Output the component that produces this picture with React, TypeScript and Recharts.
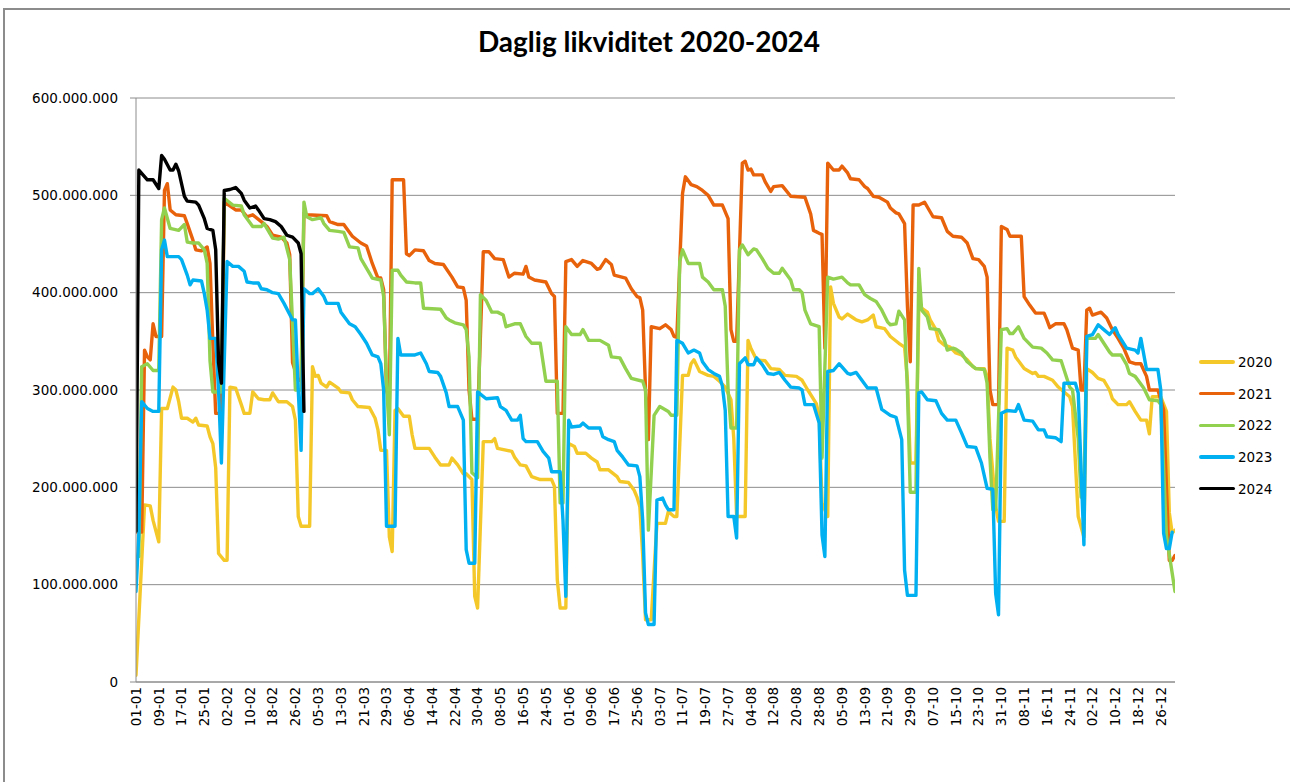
import React from 'react';
import { LineChart, Line, XAxis, YAxis, CartesianGrid } from 'recharts';

// dates shown under the axis (every 8th day of a leap year)
const tickLabels = [
  '01-01', '09-01', '17-01', '25-01', '02-02', '10-02', '18-02', '26-02', '05-03', '13-03',
  '21-03', '29-03', '06-04', '14-04', '22-04', '30-04', '08-05', '16-05', '24-05', '01-06',
  '09-06', '17-06', '25-06', '03-07', '11-07', '19-07', '27-07', '04-08', '12-08', '20-08',
  '28-08', '05-09', '13-09', '21-09', '29-09', '07-10', '15-10', '23-10', '31-10', '08-11',
  '16-11', '24-11', '02-12', '10-12', '18-12', '26-12',
];
const tickDays = tickLabels.map((_, i) => i * 8);
const yTicks = [0, 100, 200, 300, 400, 500, 600];

// [day of year, mio. kr]
const y2020: [number, number][] = [
  [0, 7], [3, 182], [5, 181], [6, 166], [8, 144], [9, 281], [11, 281], [13, 303], [14, 300], [15, 288],
  [16, 271], [18, 271], [20, 267], [21, 271], [22, 264], [25, 263], [26, 252], [27, 245], [28, 220], [29, 132],
  [31, 125], [32, 125], [33, 303], [35, 302], [37, 285], [38, 276], [40, 276], [41, 298], [43, 291], [45, 290],
  [47, 290], [48, 297], [50, 288], [53, 288], [55, 283], [56, 269], [57, 170], [58, 160], [61, 160], [62, 324],
  [63, 314], [64, 315], [65, 307], [67, 303], [68, 308], [71, 302], [72, 298], [75, 297], [76, 290], [78, 283],
  [82, 282], [84, 271], [85, 259], [86, 238], [88, 238], [89, 149], [90, 134], [91, 279], [92, 281], [94, 273],
  [96, 273], [97, 254], [98, 240], [103, 240], [105, 231], [107, 223], [110, 223], [111, 230], [113, 223], [115, 214],
  [116, 214], [118, 208], [119, 88], [120, 76], [122, 247], [125, 247], [126, 250], [127, 240], [132, 237], [133, 231],
  [135, 223], [137, 222], [139, 211], [142, 208], [146, 208], [147, 201], [148, 105], [149, 76], [151, 76], [152, 245],
  [154, 242], [155, 235], [158, 235], [160, 230], [162, 226], [163, 218], [166, 218], [169, 211], [170, 206], [173, 205],
  [175, 197], [176, 190], [177, 180], [178, 130], [179, 64], [181, 64], [183, 163], [186, 163], [187, 175], [189, 170],
  [190, 170], [192, 315], [194, 315], [195, 327], [196, 331], [198, 319], [201, 315], [203, 314], [205, 309], [207, 303],
  [209, 290], [210, 250], [211, 170], [214, 170], [215, 351], [216, 343], [218, 331], [221, 330], [223, 322], [226, 321],
  [228, 315], [232, 314], [234, 310], [236, 300], [239, 286], [240, 273], [241, 184], [243, 170], [244, 406], [245, 389],
  [247, 375], [248, 373], [250, 378], [252, 374], [253, 372], [255, 370], [257, 372], [259, 377], [260, 365], [263, 363],
  [265, 355], [268, 348], [270, 344], [271, 310], [272, 225], [274, 225], [275, 386], [276, 384], [278, 380], [279, 372],
  [281, 362], [282, 351], [284, 346], [286, 344], [288, 338], [290, 336], [292, 331], [294, 324], [295, 322], [298, 322],
  [299, 314], [300, 250], [302, 180], [303, 165], [305, 165], [306, 343], [308, 341], [309, 334], [312, 322], [315, 317],
  [316, 318], [317, 314], [319, 314], [322, 310], [324, 303], [328, 293], [329, 283], [331, 170], [333, 149], [334, 322],
  [336, 318], [338, 312], [340, 310], [342, 300], [343, 291], [345, 285], [348, 285], [349, 288], [351, 278], [353, 269],
  [355, 269], [356, 255], [357, 293], [360, 293], [362, 278], [363, 174], [364, 153], [365, 156],
];

const y2021: [number, number][] = [
  [0, 154], [2, 154], [3, 341], [4, 334], [5, 331], [6, 368], [7, 355], [9, 355], [10, 505], [11, 512],
  [12, 485], [14, 480], [17, 479], [18, 471], [20, 454], [21, 444], [23, 443], [25, 447], [26, 430], [27, 348],
  [28, 276], [30, 276], [31, 493], [35, 485], [37, 485], [39, 478], [41, 480], [44, 473], [46, 468], [48, 459],
  [51, 457], [53, 451], [54, 439], [55, 328], [57, 310], [58, 310], [59, 482], [60, 480], [67, 479], [68, 473],
  [71, 470], [73, 470], [74, 466], [76, 458], [79, 451], [81, 448], [83, 430], [85, 415], [86, 415], [87, 403],
  [88, 300], [89, 290], [90, 516], [94, 516], [95, 440], [96, 438], [98, 444], [101, 443], [103, 433], [105, 430],
  [108, 429], [111, 416], [113, 406], [115, 405], [116, 392], [117, 300], [118, 270], [120, 270], [122, 442], [124, 442],
  [126, 435], [129, 434], [131, 416], [133, 420], [136, 419], [137, 427], [138, 416], [140, 413], [144, 411], [146, 399],
  [147, 396], [148, 276], [150, 276], [151, 432], [153, 434], [155, 427], [157, 433], [160, 430], [162, 424], [163, 425],
  [165, 434], [167, 429], [168, 418], [172, 415], [174, 404], [176, 396], [177, 395], [178, 382], [179, 300], [180, 249],
  [181, 365], [184, 363], [186, 367], [188, 362], [189, 355], [190, 354], [192, 502], [193, 519], [195, 511], [197, 509],
  [199, 505], [201, 500], [203, 490], [206, 490], [208, 476], [209, 362], [210, 350], [211, 350], [213, 533], [214, 535],
  [215, 526], [216, 527], [217, 521], [220, 521], [221, 514], [223, 504], [224, 509], [227, 510], [230, 499], [235, 498],
  [237, 481], [238, 464], [240, 461], [241, 460], [242, 343], [243, 533], [245, 526], [247, 526], [248, 530], [250, 523],
  [251, 517], [254, 516], [256, 509], [257, 507], [259, 499], [261, 498], [264, 493], [265, 487], [267, 482], [268, 481],
  [270, 471], [271, 386], [272, 329], [273, 490], [275, 490], [277, 493], [278, 488], [280, 478], [283, 477], [285, 463],
  [287, 458], [290, 457], [292, 451], [294, 435], [296, 434], [298, 427], [299, 416], [300, 300], [301, 285], [303, 285],
  [304, 468], [306, 465], [307, 458], [311, 458], [312, 396], [314, 387], [316, 379], [319, 379], [320, 372], [321, 364],
  [323, 368], [326, 368], [327, 362], [329, 343], [331, 341], [332, 300], [333, 300], [334, 382], [335, 384], [336, 377],
  [339, 380], [341, 374], [343, 362], [345, 353], [347, 343], [349, 329], [351, 327], [353, 327], [355, 314], [356, 300],
  [359, 300], [361, 280], [362, 200], [363, 125], [364, 125], [365, 130],
];

const y2022: [number, number][] = [
  [0, 129], [1, 129], [2, 324], [4, 327], [6, 320], [8, 320], [9, 475], [10, 487], [12, 466], [15, 464],
  [17, 470], [18, 452], [20, 451], [22, 451], [24, 444], [25, 430], [26, 330], [27, 298], [30, 298], [31, 497],
  [34, 490], [37, 489], [38, 480], [41, 468], [44, 468], [45, 471], [48, 456], [50, 455], [52, 457], [54, 434],
  [55, 368], [56, 300], [58, 300], [59, 493], [60, 478], [62, 475], [65, 477], [66, 471], [68, 464], [71, 463],
  [73, 462], [75, 447], [78, 446], [79, 435], [82, 420], [83, 415], [86, 413], [87, 396], [88, 307], [89, 254],
  [90, 423], [92, 423], [93, 418], [95, 411], [98, 410], [100, 410], [101, 384], [107, 383], [109, 374], [110, 372],
  [112, 369], [115, 367], [116, 362], [117, 334], [118, 215], [120, 210], [121, 398], [123, 392], [125, 380], [127, 380],
  [129, 377], [130, 365], [133, 368], [135, 368], [137, 355], [139, 348], [142, 348], [144, 309], [148, 309], [149, 184],
  [150, 184], [151, 365], [153, 357], [156, 357], [157, 362], [159, 351], [163, 351], [166, 346], [167, 334], [170, 333],
  [172, 322], [174, 312], [178, 309], [179, 300], [180, 156], [182, 274], [184, 283], [187, 278], [188, 274], [190, 274],
  [191, 432], [192, 444], [194, 430], [198, 430], [199, 416], [201, 411], [203, 403], [206, 403], [207, 386], [208, 300],
  [209, 261], [211, 261], [212, 444], [213, 449], [215, 439], [217, 445], [218, 444], [220, 435], [222, 425], [224, 420],
  [226, 420], [227, 425], [230, 413], [231, 403], [233, 403], [234, 400], [235, 382], [237, 368], [240, 365], [241, 230],
  [243, 416], [245, 414], [248, 416], [250, 410], [251, 408], [254, 408], [256, 398], [258, 394], [260, 391], [262, 382],
  [264, 370], [265, 367], [267, 368], [268, 381], [270, 372], [271, 300], [272, 195], [274, 195], [275, 425], [276, 382],
  [278, 375], [279, 363], [282, 362], [284, 351], [285, 341], [287, 343], [288, 342], [290, 338], [292, 329], [295, 322],
  [298, 321], [299, 307], [300, 230], [301, 177], [302, 177], [304, 362], [306, 363], [307, 358], [308, 358], [310, 365],
  [312, 353], [315, 344], [318, 343], [320, 338], [322, 331], [325, 330], [326, 321], [328, 303], [329, 300], [331, 250],
  [332, 190], [333, 190], [334, 353], [337, 353], [338, 357], [340, 348], [342, 339], [343, 336], [346, 336], [348, 326],
  [349, 317], [351, 314], [354, 302], [356, 290], [359, 289], [360, 285], [361, 220], [362, 150], [365, 93],
];

const y2023: [number, number][] = [
  [0, 93], [1, 153], [2, 288], [4, 281], [6, 278], [8, 278], [9, 444], [10, 454], [11, 437], [15, 437],
  [16, 434], [18, 418], [19, 408], [20, 413], [23, 412], [24, 399], [25, 382], [26, 353], [28, 353], [29, 300],
  [30, 225], [32, 432], [34, 427], [36, 427], [38, 422], [39, 411], [41, 410], [43, 410], [44, 404], [46, 403],
  [48, 400], [50, 399], [52, 389], [55, 372], [56, 372], [57, 300], [58, 238], [59, 404], [61, 399], [62, 399],
  [64, 404], [66, 396], [67, 389], [71, 389], [72, 380], [75, 368], [77, 365], [79, 357], [81, 348], [83, 336],
  [85, 334], [86, 327], [87, 300], [88, 160], [91, 160], [92, 353], [93, 336], [98, 336], [100, 338], [102, 327],
  [103, 319], [106, 318], [107, 314], [109, 297], [110, 283], [113, 283], [115, 269], [116, 136], [117, 122], [119, 122],
  [120, 298], [123, 291], [127, 292], [128, 283], [130, 279], [132, 269], [134, 269], [135, 274], [136, 250], [137, 247],
  [141, 247], [143, 237], [145, 230], [146, 216], [149, 216], [150, 166], [151, 88], [152, 269], [153, 262], [156, 263],
  [157, 266], [159, 261], [163, 261], [164, 252], [166, 249], [168, 247], [169, 238], [171, 231], [173, 223], [176, 222],
  [177, 211], [178, 166], [179, 71], [180, 59], [182, 59], [183, 187], [185, 189], [186, 182], [187, 177], [189, 177],
  [190, 351], [192, 348], [194, 338], [196, 341], [198, 338], [199, 329], [201, 321], [203, 317], [205, 314], [206, 304],
  [207, 279], [208, 170], [210, 170], [211, 148], [212, 327], [214, 333], [215, 326], [217, 326], [218, 333], [220, 326],
  [222, 317], [224, 316], [226, 318], [228, 310], [230, 303], [233, 302], [234, 300], [235, 285], [238, 285], [240, 266],
  [241, 151], [242, 129], [243, 319], [245, 320], [247, 327], [250, 317], [251, 316], [253, 318], [255, 310], [257, 302],
  [260, 302], [262, 280], [265, 274], [267, 272], [269, 249], [270, 115], [271, 89], [274, 89], [275, 297], [276, 298],
  [278, 290], [281, 289], [283, 276], [285, 269], [288, 269], [290, 256], [292, 242], [295, 241], [297, 225], [299, 199],
  [301, 198], [302, 91], [303, 69], [304, 276], [306, 279], [309, 278], [310, 285], [312, 269], [315, 268], [317, 259],
  [319, 259], [320, 252], [323, 251], [325, 247], [326, 307], [330, 307], [331, 297], [333, 141], [334, 355], [336, 357],
  [338, 367], [340, 362], [342, 357], [344, 364], [345, 357], [348, 343], [351, 341], [352, 338], [353, 353], [355, 321],
  [359, 321], [360, 300], [361, 153], [362, 137], [363, 137], [364, 154],
];

const y2024: [number, number][] = [
  [0, 155], [1, 526], [4, 516], [6, 516], [8, 507], [9, 541], [10, 537], [12, 526], [13, 526], [14, 532],
  [15, 525], [17, 499], [18, 494], [21, 493], [22, 490], [24, 476], [25, 466], [27, 464], [28, 444], [29, 328],
  [30, 307], [31, 505], [33, 506], [35, 508], [37, 502], [38, 495], [40, 487], [42, 489], [43, 485], [45, 476],
  [47, 475], [49, 473], [51, 468], [53, 459], [55, 457], [57, 451], [58, 440], [59, 278],
];

const series = [
  { name: '2020', color: '#F5C82A', points: y2020 },
  { name: '2021', color: '#E8620C', points: y2021 },
  { name: '2022', color: '#92D050', points: y2022 },
  { name: '2023', color: '#00B0F0', points: y2023 },
  { name: '2024', color: '#000000', points: y2024 },
];

const toRows = (pts: [number, number][]) => pts.map(([d, v]) => ({ d, v: v * 1000000 }));

const fmtNum = (v: number) => String(Math.round(v)).replace(/\B(?=(\d{3})+(?!\d))/g, '.');

const FONT = "'DejaVu Sans', Verdana, sans-serif";

const XTick = ({ x, y, payload }: any) => {
  const label = tickLabels[Math.round(payload.value / 8)];
  return (
    <text
      x={x}
      y={y}
      transform={`rotate(-90, ${x}, ${y})`}
      textAnchor="end"
      dy="0.36em"
      fontSize={13.5}
      fontFamily={FONT}
      fill="#000"
    >
      {label}
    </text>
  );
};

export default function App() {
  return (
    <div style={{ position: 'absolute', left: 0, top: 0, width: 1290, height: 782, background: '#fff', overflow: 'hidden' }}>
      <div
        style={{
          position: 'absolute',
          left: 3,
          top: 8,
          width: 1300,
          height: 800,
          border: '2px solid #8c8c8c',
          boxSizing: 'border-box',
        }}
      />
      <div
        style={{
          position: 'absolute',
          left: 0,
          width: 1298,
          top: 24,
          textAlign: 'center',
          fontFamily: 'Lato, sans-serif',
          fontWeight: 700,
          fontSize: 28,
          color: '#000',
        }}
      >
        Daglig likviditet 2020-2024
      </div>
      <div style={{ position: 'absolute', left: 0, top: 0 }}>
        <LineChart width={1290} height={782} margin={{ top: 98, right: 115, bottom: 0, left: 0 }}>
          <CartesianGrid horizontal vertical={false} stroke="#8c8c8c" strokeWidth={1} />
          <XAxis
            dataKey="d"
            type="number"
            domain={[0, 365]}
            ticks={tickDays}
            interval={0}
            allowDataOverflow
            axisLine={{ stroke: '#8c8c8c' }}
            tickLine={false}
            tickSize={0}
            tickMargin={5}
            tick={<XTick />}
            height={100}
          />
          <YAxis
            type="number"
            domain={[0, 600000000]}
            ticks={yTicks.map((t) => t * 1000000)}
            interval={0}
            width={136}
            axisLine={{ stroke: '#8c8c8c' }}
            tickLine={{ stroke: '#8c8c8c' }}
            tickSize={6}
            tickMargin={12}
            tickFormatter={fmtNum}
            tick={{ fontSize: 13.5, fontFamily: FONT, fill: '#000' }}
          />
          {series.map((s) => (
            <Line
              key={s.name}
              data={toRows(s.points)}
              dataKey="v"
              name={s.name}
              type="linear"
              stroke={s.color}
              strokeWidth={3.4}
              strokeLinejoin="round"
              strokeLinecap="round"
              dot={false}
              activeDot={false}
              isAnimationActive={false}
            />
          ))}
        </LineChart>
      </div>
      <div style={{ position: 'absolute', left: 1199, top: 346, fontFamily: FONT, fontSize: 13.5, color: '#000' }}>
        {series.map((s) => (
          <div key={s.name} style={{ display: 'flex', alignItems: 'center', height: 31.7 }}>
            <div style={{ width: 36, height: 3.4, borderRadius: 2, background: s.color, marginRight: 3 }} />
            <span>{s.name}</span>
          </div>
        ))}
      </div>
    </div>
  );
}
